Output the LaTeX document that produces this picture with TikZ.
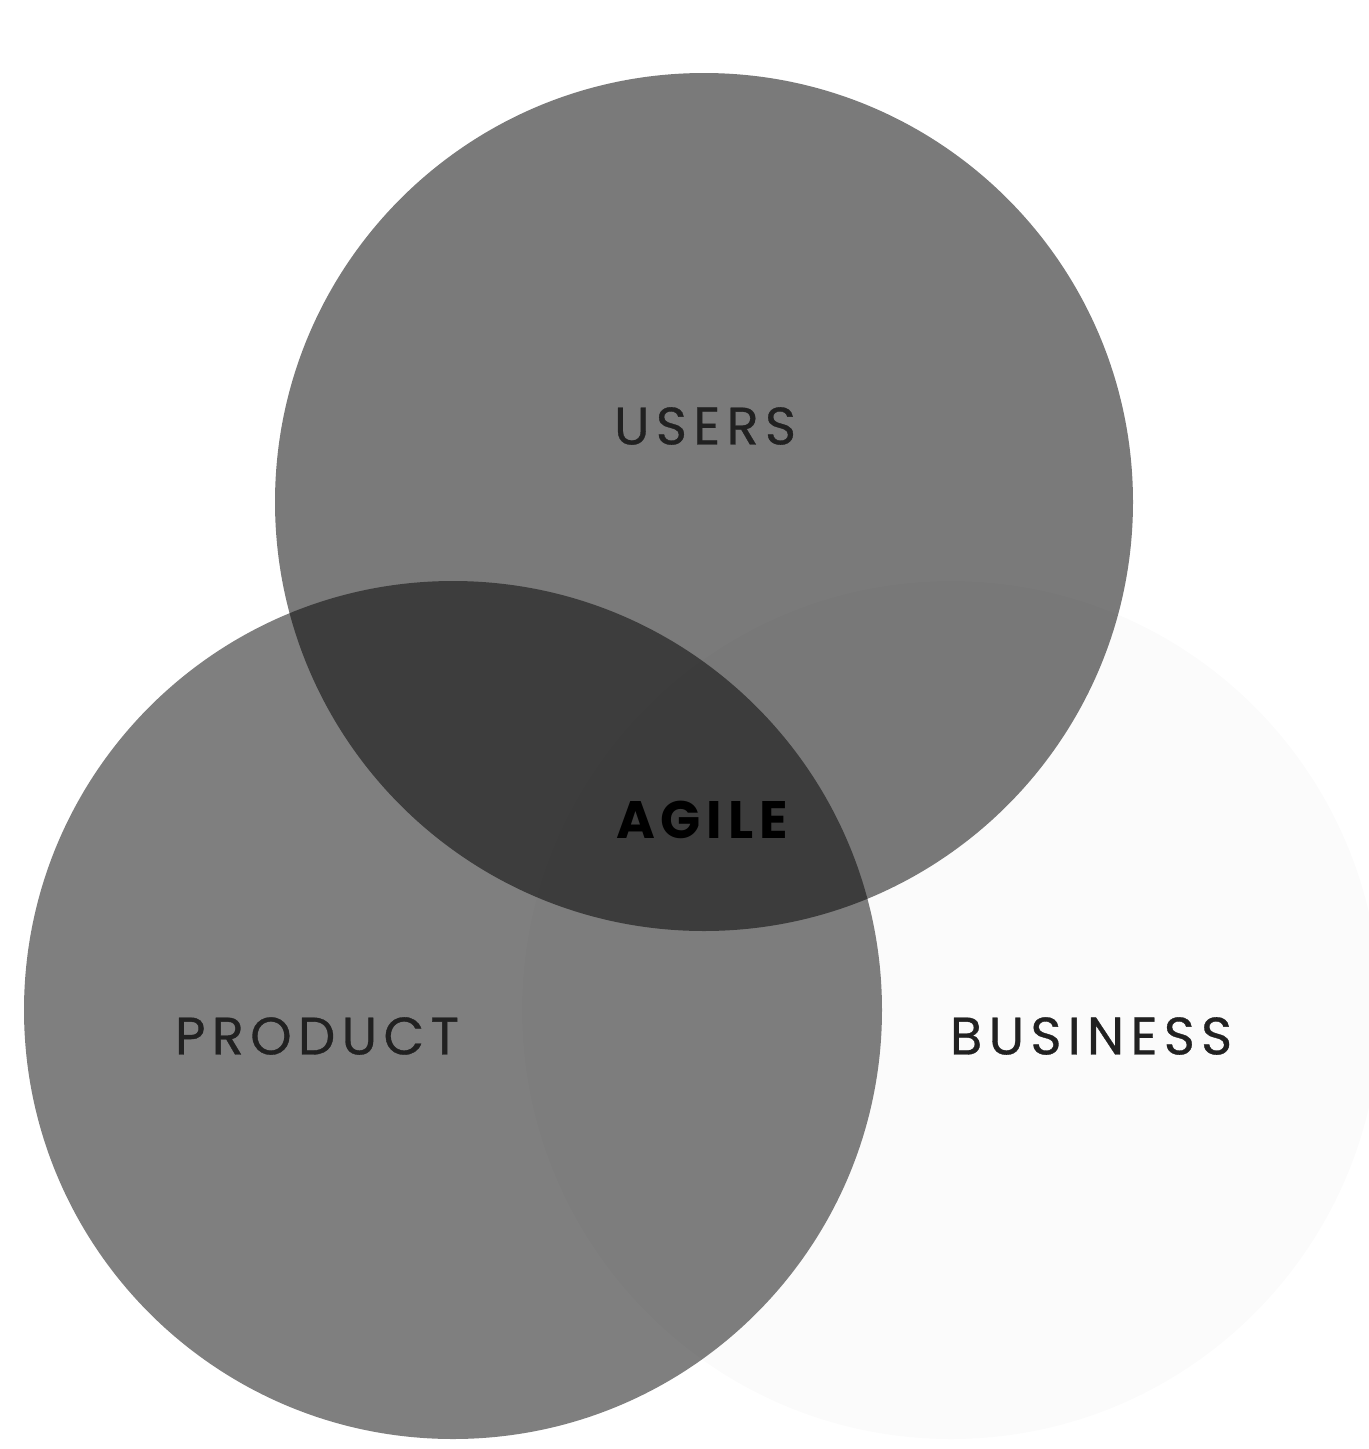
\documentclass[tikz,border=0pt]{standalone}
\usepackage{fontspec}
\setmainfont{Poppins}
\newfontfamily\labelfont[LetterSpace=12,FakeBold=0.6]{Poppins}
\newfontfamily\corefont[LetterSpace=11]{Poppins Bold}
\usepackage{tikz}
\usetikzlibrary{backgrounds}

\tikzset{
  circ/.style={fill=black, draw=none},
  setlabel/.style={font=\labelfont\fontsize{15}{18}\selectfont, text=black!87},
  corelabel/.style={font=\corefont\fontsize{15}{18}\selectfont, text=black}
}

\begin{document}
\begin{tikzpicture}
\useasboundingbox (0,0) rectangle (13.69,-14.49);
\begin{scope}
\clip (0,0) rectangle (13.69,-14.49);
\coordinate (users) at (7.04,-5.02);
\coordinate (product) at (4.53,-10.10);
\coordinate (business) at (9.51,-10.10);
\fill[circ, fill opacity=0.015] (business) circle[radius=4.29cm];
\fill[circ, fill opacity=0.52] (users) circle[radius=4.29cm];
\fill[circ, fill opacity=0.5] (product) circle[radius=4.29cm];
\end{scope}
% labels
\node[setlabel] (usersl) at (7.05,-4.26) {USERS};
\node[setlabel] (productl) at (3.17,-10.36) {PRODUCT};
\node[setlabel] (businessl) at (10.91,-10.36) {BUSINESS};
\node[corelabel] (agile) at (7.02,-8.20) {AGILE};
\end{tikzpicture}
\end{document}
